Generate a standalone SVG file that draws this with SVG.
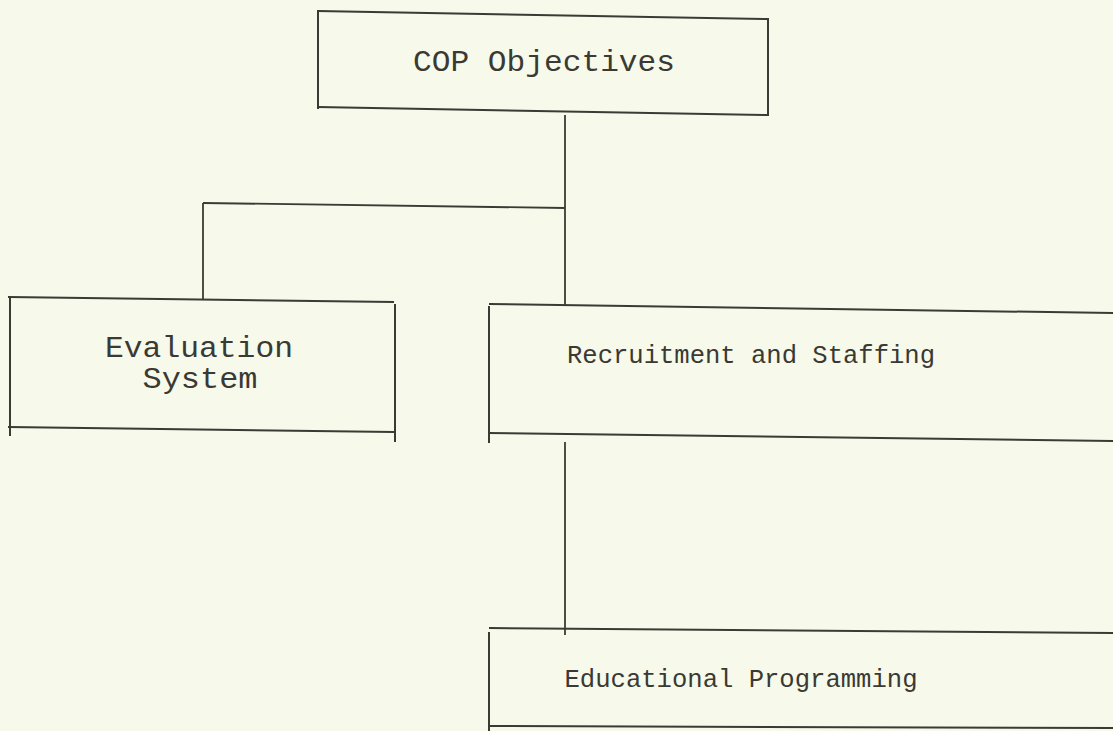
<svg xmlns="http://www.w3.org/2000/svg" width="1113" height="731" viewBox="0 0 1113 731">
  <style>
    .edge { fill: none; stroke: #3b3a35; stroke-width: 2; stroke-linecap: square; }
    .link { fill: none; stroke: #3b3a35; stroke-width: 1.8; }
    .label { font-family: "Liberation Mono", "Courier New", monospace; fill: #3a3934; text-anchor: middle; }
    .big { font-size: 29px; }
    .mid { font-size: 25px; }
  </style>
  <rect width="1113" height="731" fill="#f7f9ea"/>

  <!-- connectors -->
  <g id="connectors">
    <path class="link" d="M565 115 L565 306"/>
    <path class="link" d="M203 203 L565 208"/>
    <path class="link" d="M203 203 L203 299"/>
    <path class="link" d="M565 442 L565 635"/>
  </g>

  <!-- top node -->
  <g id="cop-objectives">
    <path class="edge" d="M318 11 L768 19"/>
    <path class="edge" d="M318 11 L318 108"/>
    <path class="edge" d="M768 19 L768 115"/>
    <path class="edge" d="M318 107 L768 115"/>
    <text class="label big" x="544" y="71" textLength="262" lengthAdjust="spacingAndGlyphs">COP Objectives</text>
  </g>

  <g id="evaluation-system">
    <path class="edge" d="M9 297 L393 302"/>
    <path class="edge" d="M10 297 L10 435"/>
    <path class="edge" d="M395 305 L395 441"/>
    <path class="edge" d="M9 427 L393 432"/>
    <text class="label big" x="199" y="357" textLength="188" lengthAdjust="spacingAndGlyphs">Evaluation</text>
    <text class="label big" x="200" y="388" textLength="115" lengthAdjust="spacingAndGlyphs">System</text>
  </g>

  <g id="recruitment-staffing">
    <path class="edge" d="M490 304 L1113 313"/>
    <path class="edge" d="M489 307 L489 442"/>
    <path class="edge" d="M489 433 L1113 441"/>
    <text class="label mid" x="751" y="363" textLength="368" lengthAdjust="spacingAndGlyphs">Recruitment and Staffing</text>
  </g>

  <g id="educational-programming">
    <path class="edge" d="M490 628 L1113 633"/>
    <path class="edge" d="M489 633 L489 731"/>
    <path class="edge" d="M489 726 L1113 728"/>
    <text class="label mid" x="741" y="687" textLength="353" lengthAdjust="spacingAndGlyphs">Educational Programming</text>
  </g>
</svg>
